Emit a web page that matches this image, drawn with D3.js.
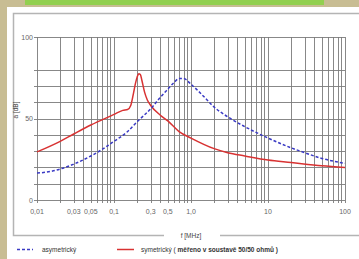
<!DOCTYPE html>
<html>
<head>
<meta charset="utf-8">
<script src="https://cdn.jsdelivr.net/npm/d3@7"></script>
<style>
  body { margin: 0; background: #c8bd93; }
  svg { display: block; font-family: "Liberation Sans", Arial, sans-serif; }
</style>
</head>
<body>
<div id="chart"></div>
<script>
// frequencies in MHz, attenuation in dB
var asymFreq = [0.01, 0.015, 0.02, 0.03, 0.05, 0.07, 0.1, 0.15, 0.2, 0.3, 0.4, 0.5, 0.6, 0.7, 0.8, 1.0, 1.5, 2, 3, 5, 10, 20, 30, 50, 100];
var asymVals = [16.5, 17.5, 19, 22, 27, 31, 36, 42, 48, 56, 63, 68, 72, 74.5, 74.5, 71, 63, 57, 51, 45, 38, 32, 29, 25.5, 22.5];

var symFreq = [0.01, 0.02, 0.03, 0.05, 0.1, 0.13, 0.15, 0.165, 0.18, 0.19, 0.2, 0.21, 0.22, 0.23, 0.25, 0.27, 0.3, 0.4, 0.5, 0.7, 1.0, 2, 3, 5, 10, 20, 50, 100];
var symVals = [29.5, 36, 40.5, 46, 52.5, 55, 55.5, 58, 66, 71.5, 75.5, 77.5, 77, 73.5, 66, 61.5, 58, 52, 48.5, 42, 38, 31.5, 29, 27, 24.5, 23, 21, 20];

var xTickVals = [0.01, 0.03, 0.05, 0.1, 0.3, 0.5, 1, 10, 100];
var xTickLabels = ["0,01", "0,03", "0,05", "0,1", "0,3", "0,5", "1,0", "10", "100"];
var yGridVals = [0, 10, 20, 30, 40, 50, 60, 70, 80, 100];
var yTickLabels = [0, 50, 100];

var svgWidth = 359;
var svgHeight = 259;

var svg = d3.select("#chart")
  .append("svg")
  .attr("width", svgWidth)
  .attr("height", svgHeight);

// tan page, green strip, white panel
svg.append("rect").attr("width", svgWidth).attr("height", svgHeight).attr("fill", "#c8bd93");
svg.append("rect").attr("x", 25).attr("y", 0).attr("width", 299).attr("height", 5).attr("fill", "#92d050");
svg.append("rect").attr("x", 7).attr("y", 7).attr("width", svgWidth - 7).attr("height", svgHeight - 7).attr("fill", "#ffffff");

// grey frame
var frame = svg.append("g").attr("stroke", "#b4b4b4").attr("stroke-width", 1.5).attr("fill", "none");
frame.append("path").attr("d", "M359,13.5H13.5V235.5H164");
frame.append("path").attr("d", "M220,235.5H359");

var x = d3.scaleLog().domain([0.01, 100]).range([37, 345]);
var y = d3.scaleLinear().domain([0, 100]).range([200, 37]);

// vertical grid: 1..9 in every decade
var gridX = [];
[0.01, 0.1, 1, 10].forEach(function(d) {
  for (var i = 1; i < 10; i++) gridX.push(d * i);
});
gridX.push(100);

var grid = svg.append("g").attr("stroke", "#7a7a7a").attr("stroke-width", 0.9);
grid.selectAll("line.v")
  .data(gridX)
  .enter()
  .append("line")
  .attr("class", "v")
  .attr("x1", d => Math.round(x(d)) + 0.5)
  .attr("x2", d => Math.round(x(d)) + 0.5)
  .attr("y1", y(100))
  .attr("y2", y(0) + 3);
grid.selectAll("line.h")
  .data(yGridVals)
  .enter()
  .append("line")
  .attr("class", "h")
  .attr("x1", x(0.01) - 3)
  .attr("x2", x(100))
  .attr("y1", d => Math.round(y(d)) + 0.5)
  .attr("y2", d => Math.round(y(d)) + 0.5);

// axis labels
svg.append("g")
  .selectAll("text")
  .data(xTickVals)
  .enter()
  .append("text")
  .attr("x", d => x(d))
  .attr("y", 214)
  .attr("text-anchor", "middle")
  .attr("font-size", 7)
  .attr("fill", "#666")
  .text((d, i) => xTickLabels[i]);

svg.append("g")
  .selectAll("text")
  .data(yTickLabels)
  .enter()
  .append("text")
  .attr("x", 33)
  .attr("y", d => y(d) + 2.5)
  .attr("text-anchor", "end")
  .attr("font-size", 7)
  .attr("fill", "#666")
  .text(d => d);

svg.append("text")
  .attr("transform", "translate(18,110) rotate(-90)")
  .attr("text-anchor", "middle")
  .attr("font-size", 6.5)
  .attr("fill", "#444")
  .text("a [dB]");

svg.append("text")
  .attr("x", 191)
  .attr("y", 238)
  .attr("text-anchor", "middle")
  .attr("font-size", 6.5)
  .attr("fill", "#444")
  .text("f [MHz]");

// curves
var line = d3.line()
  .x(d => x(d[0]))
  .y(d => y(d[1]))
  .curve(d3.curveMonotoneX);

svg.append("path")
  .datum(d3.zip(symFreq, symVals))
  .attr("d", line)
  .attr("fill", "none")
  .attr("stroke", "#d83232")
  .attr("stroke-width", 1.5);

svg.append("path")
  .datum(d3.zip(asymFreq, asymVals))
  .attr("d", line)
  .attr("fill", "none")
  .attr("stroke", "#3a3ac4")
  .attr("stroke-width", 1.5)
  .attr("stroke-dasharray", "3,2");

// legend
svg.append("line")
  .attr("x1", 17).attr("x2", 33).attr("y1", 249.5).attr("y2", 249.5)
  .attr("stroke", "#3a3ac4").attr("stroke-width", 1.5).attr("stroke-dasharray", "3,2");
svg.append("text")
  .attr("x", 42).attr("y", 252)
  .attr("font-size", 6.5).attr("fill", "#333")
  .text("asymetrický");
svg.append("line")
  .attr("x1", 117).attr("x2", 134).attr("y1", 249.5).attr("y2", 249.5)
  .attr("stroke", "#d83232").attr("stroke-width", 1.5);
var legText = svg.append("text")
  .attr("x", 141).attr("y", 252)
  .attr("font-size", 6.5).attr("fill", "#333");
legText.append("tspan").attr("fill", "#333").text("symetrický ( ");
legText.append("tspan").attr("fill", "#333").attr("font-weight", "bold").text("měřeno v soustavě 50/50 ohmů )");
</script>
</body>
</html>
